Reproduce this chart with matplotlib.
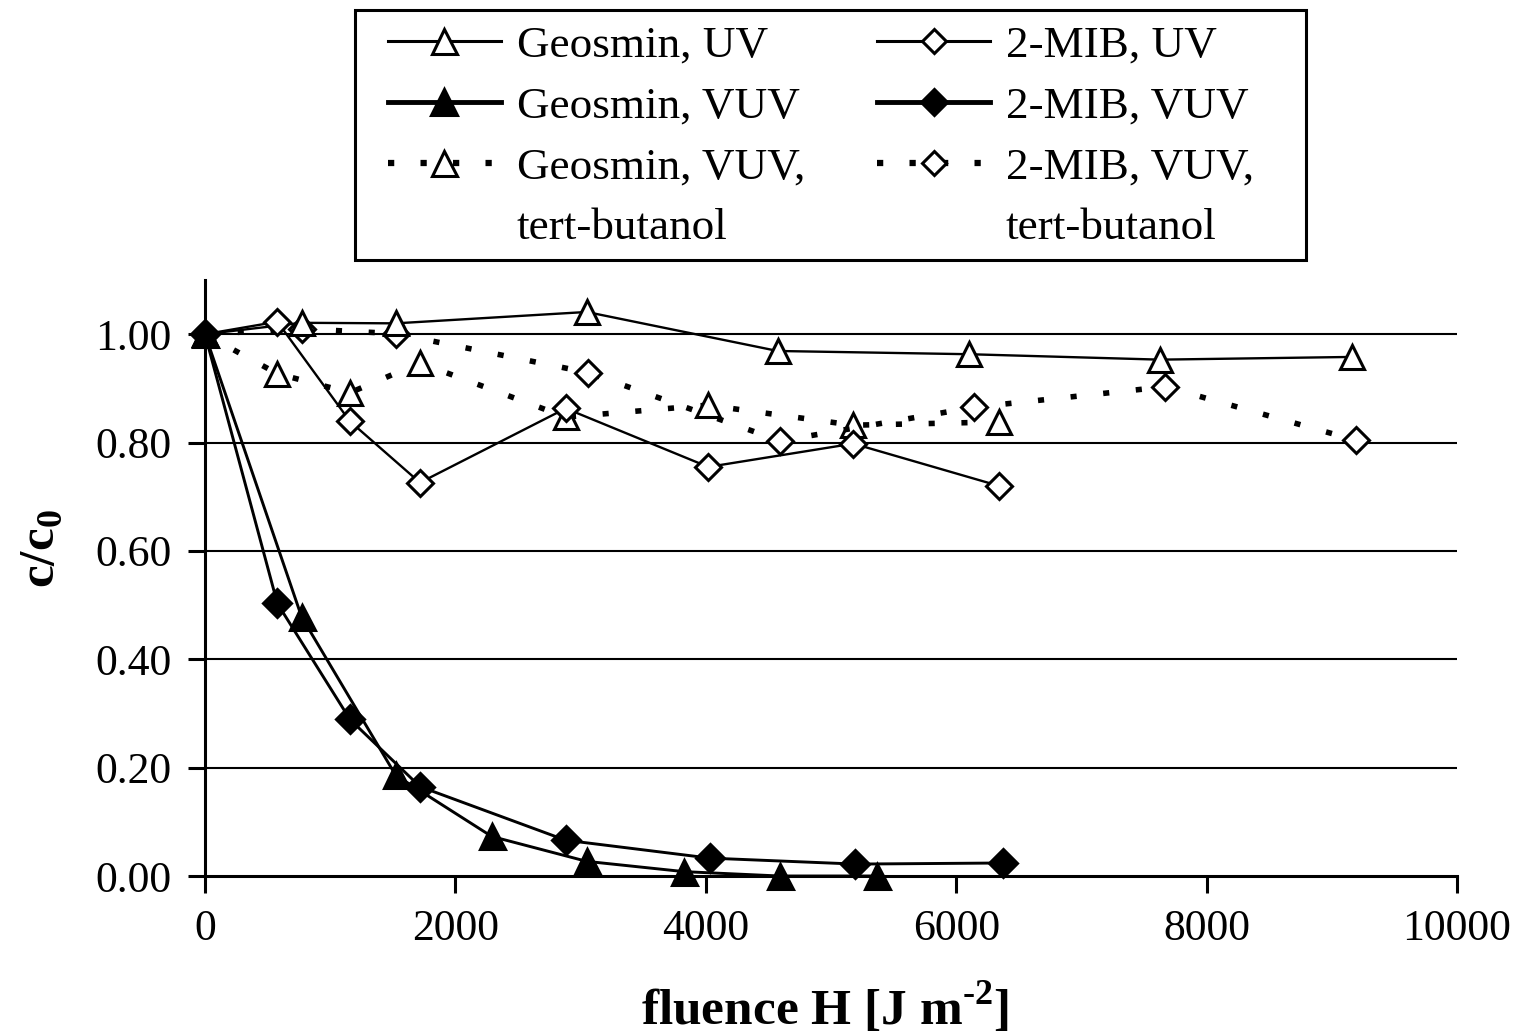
import matplotlib
matplotlib.use('Agg')
import matplotlib.pyplot as plt
from matplotlib.lines import Line2D
from matplotlib.patches import Rectangle

plt.rcParams['font.family'] = ['Liberation Serif', 'DejaVu Serif']
plt.rcParams['mathtext.fontset'] = 'custom'
plt.rcParams['mathtext.rm'] = 'Liberation Serif'
plt.rcParams['mathtext.bf'] = 'Liberation Serif:bold'

# fluence H [J m-2] and c/c0
h_geo_uv = [0, 772, 1523, 3049, 4574, 6105, 7628, 9159]
geo_uv = [1.00, 1.021, 1.020, 1.041, 0.969, 0.963, 0.953, 0.958]

h_geo_vuv = [0, 772, 1523, 2290, 3049, 3829, 4589, 5370]
geo_vuv = [1.00, 0.478, 0.186, 0.073, 0.027, 0.008, 0.0, 0.0]

h_geo_tb = [0, 578, 1158, 1717, 2881, 4015, 5178, 6342]
geo_tb = [1.00, 0.927, 0.892, 0.947, 0.847, 0.869, 0.832, 0.838]

h_mib_uv = [0, 578, 1158, 1717, 2881, 4020, 5178, 6342]
mib_uv = [1.00, 1.023, 0.839, 0.726, 0.863, 0.755, 0.798, 0.720]

h_mib_vuv = [0, 578, 1158, 1717, 2881, 4032, 5195, 6370]
mib_vuv = [1.00, 0.503, 0.289, 0.165, 0.066, 0.033, 0.022, 0.024]

h_mib_tb = [0, 772, 1523, 3060, 4595, 6140, 7670, 9195]
mib_tb = [1.00, 1.010, 1.001, 0.929, 0.803, 0.865, 0.903, 0.804]

x_ticks = [0, 2000, 4000, 6000, 8000, 10000]
y_ticks = [0.0, 0.2, 0.4, 0.6, 0.8, 1.0]

W, H = 1520, 1033
fig = plt.figure(figsize=(15.2, 10.33), dpi=100)
ax = fig.add_axes([205 / W, 1 - 876 / H, (1457 - 205) / W, (876 - 280) / H])

dots = (0, (1.1, 4.8))
mew = 2.2

ax.plot(h_geo_uv, geo_uv, color='black', lw=1.7, marker='^', ms=17,
        mfc='white', mec='black', mew=mew, clip_on=False, zorder=4)
ax.plot(h_geo_vuv, geo_vuv, color='black', lw=2.1, marker='^', ms=18,
        mfc='black', mec='black', mew=mew, clip_on=False, zorder=5)
ax.plot(h_geo_tb, geo_tb, color='black', lw=4, linestyle=dots, dash_capstyle='butt',
        marker='^', ms=17, mfc='white', mec='black', mew=mew, clip_on=False, zorder=3)
ax.plot(h_mib_uv, mib_uv, color='black', lw=1.7, marker='D', ms=13,
        mfc='white', mec='black', mew=mew, clip_on=False, zorder=4)
ax.plot(h_mib_vuv, mib_vuv, color='black', lw=2.1, marker='D', ms=14,
        mfc='black', mec='black', mew=mew, clip_on=False, zorder=5)
ax.plot(h_mib_tb, mib_tb, color='black', lw=4, linestyle=dots, dash_capstyle='butt',
        marker='D', ms=13, mfc='white', mec='black', mew=mew, clip_on=False, zorder=3)

ax.set_xlim(0, 10000)
ax.set_ylim(0, 1.1)
ax.set_xticks(x_ticks)
ax.set_xticklabels([str(v) for v in x_ticks])
ax.set_yticks(y_ticks)
ax.set_yticklabels(['%.2f' % v for v in y_ticks])
ax.tick_params(axis='both', direction='out', length=12, width=2.2, labelsize=31.5)
ax.tick_params(axis='y', pad=12)
ax.tick_params(axis='x', pad=12)

for v in y_ticks[1:]:
    ax.axhline(v, color='black', lw=1.5, zorder=1)

ax.spines['top'].set_visible(False)
ax.spines['right'].set_visible(False)
ax.spines['left'].set_linewidth(2.2)
ax.spines['bottom'].set_linewidth(2.2)

ax.set_xlabel('fluence H [J m$^{\\mathbf{\u20102}}$]', fontsize=37, fontweight='bold')
ax.xaxis.set_label_coords(0.495, -0.175)
ax.set_ylabel(r'c/c$_{\mathbf{0}}$', fontsize=37, fontweight='bold')
ax.yaxis.set_label_coords(-0.112, 0.55)

# legend: 4 rows per column, the 4th row only holds the wrapped text
blank = Line2D([], [], linestyle='none', marker=None)
handles = [
    Line2D([], [], color='black', lw=2.2, marker='^', ms=18, mfc='white', mec='black', mew=mew),
    Line2D([], [], color='black', lw=3.5, marker='^', ms=19, mfc='black', mec='black', mew=mew),
    Line2D([], [], color='black', lw=4.5, linestyle=(0, (1, 4.2)), dash_capstyle='butt',
           marker='^', ms=18, mfc='white', mec='black', mew=mew),
    blank,
    Line2D([], [], color='black', lw=2.2, marker='D', ms=12, mfc='white', mec='black', mew=mew),
    Line2D([], [], color='black', lw=3.5, marker='D', ms=13, mfc='black', mec='black', mew=mew),
    Line2D([], [], color='black', lw=4.5, linestyle=(0, (1, 4.2)), dash_capstyle='butt',
           marker='D', ms=12, mfc='white', mec='black', mew=mew),
    blank,
]
labels = ['Geosmin, UV', 'Geosmin, VUV', 'Geosmin, VUV,', 'tert-butanol',
          '2-MIB, UV', '2-MIB, VUV', '2-MIB, VUV,', 'tert-butanol']
leg = ax.legend(handles, labels, ncol=2, loc='upper left',
                bbox_to_anchor=(388 / W, 1 - 25 / H), bbox_transform=fig.transFigure,
                fontsize=32.5, frameon=False, handlelength=2.5,
                handletextpad=0.35, columnspacing=1.6, labelspacing=0.45,
                borderpad=0, borderaxespad=0)

# legend box drawn separately so its padding can follow the original
fig.patches.append(Rectangle((355 / W, 1 - 260 / H), (1306 - 355) / W, 250 / H,
                             transform=fig.transFigure, fill=False,
                             edgecolor='black', lw=2.2, zorder=0))

fig.savefig('out.png', dpi=100)
